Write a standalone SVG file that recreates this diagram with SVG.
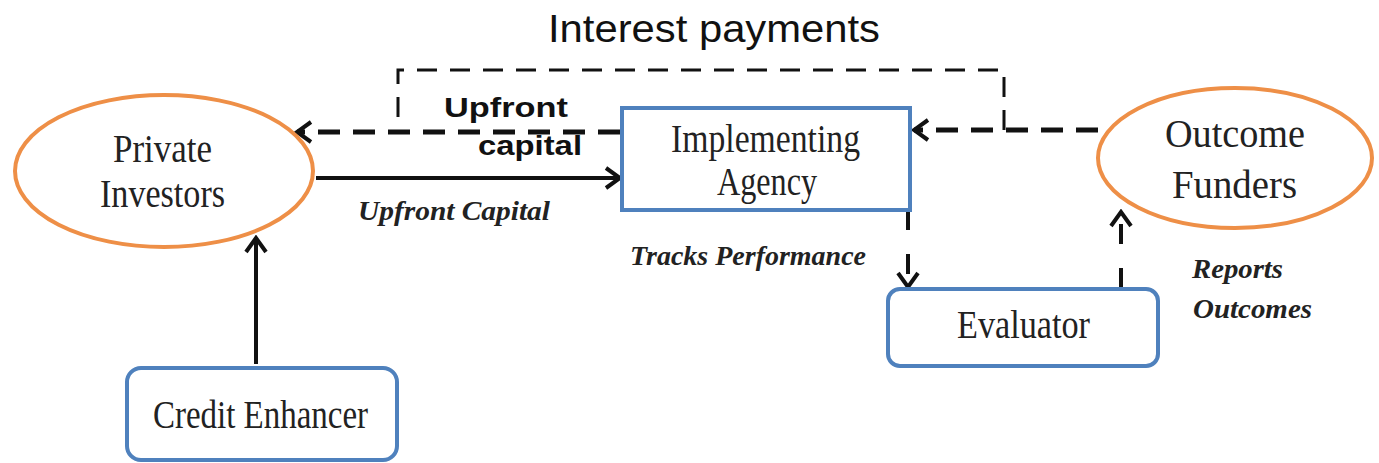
<svg xmlns="http://www.w3.org/2000/svg" width="1379" height="463" viewBox="0 0 1379 463">
<style>
.ell{fill:#fff;stroke:#EE8F47;stroke-width:4}
.box{fill:#fff;stroke:#4F81BD;stroke-width:4}
.lbl{font-family:"Liberation Serif",serif;font-size:40px;fill:#222;text-anchor:start}
.it{font-family:"Liberation Serif",serif;font-style:italic;font-weight:bold;font-size:28px;fill:#222}
.bs{font-family:"Liberation Sans",sans-serif;font-weight:bold;font-size:28px;fill:#111}
.title{font-family:"Liberation Sans",sans-serif;font-size:38px;fill:#111}
.solid{fill:none;stroke:#111;stroke-width:4}
.dash{fill:none;stroke:#111;stroke-width:5;stroke-dasharray:22 13}
.thin{fill:none;stroke:#111;stroke-width:3;stroke-dasharray:20 13}
</style>
<defs>
<marker id="ah" viewBox="0 0 22 24" refX="19" refY="12" markerWidth="22" markerHeight="24" markerUnits="userSpaceOnUse" orient="auto">
<path d="M5,2 L19,12 L5,22" fill="none" stroke="#111" stroke-width="4"/>
</marker>
</defs>
<rect width="1379" height="463" fill="#fff"/>
<text class="title" x="548" y="42" textLength="332" lengthAdjust="spacingAndGlyphs">Interest payments</text>
<g id="connectors">
<path class="dash" d="M1098,130 H914" marker-end="url(#ah)"/>
<path class="thin" d="M1004,130 V70 H398 V132"/>
<path class="dash" d="M620,132 H297" marker-end="url(#ah)"/>
<path class="solid" d="M316,178 H620" marker-end="url(#ah)"/>
<path class="solid" d="M256,364 V238" marker-end="url(#ah)"/>
<path class="dash" d="M908,210 V287" style="stroke-width:4;stroke-dasharray:20 24" marker-end="url(#ah)"/>
<path class="dash" d="M1121,288 V212" style="stroke-width:4;stroke-dasharray:20 24" marker-end="url(#ah)"/>
<text class="bs" x="444" y="117" textLength="124" lengthAdjust="spacingAndGlyphs">Upfront</text>
<text class="bs" x="478" y="155" textLength="104" lengthAdjust="spacingAndGlyphs">capital</text>
<text class="it" x="358" y="220" textLength="192" lengthAdjust="spacingAndGlyphs">Upfront Capital</text>
<text class="it" x="630" y="265" textLength="236" lengthAdjust="spacingAndGlyphs">Tracks Performance</text>
<text class="it" x="1192" y="278" textLength="91" lengthAdjust="spacingAndGlyphs">Reports</text>
<text class="it" x="1193" y="318" textLength="119" lengthAdjust="spacingAndGlyphs">Outcomes</text>
</g>
<g id="private-investors">
<ellipse class="ell" cx="164" cy="171" rx="149" ry="76"/>
<text class="lbl" x="113" y="162" textLength="99" lengthAdjust="spacingAndGlyphs">Private</text>
<text class="lbl" x="100" y="207" textLength="125" lengthAdjust="spacingAndGlyphs">Investors</text>
</g>
<g id="implementing-agency">
<rect class="box" x="622" y="108" width="288" height="102"/>
<text class="lbl" x="671" y="152" textLength="189" lengthAdjust="spacingAndGlyphs">Implementing</text>
<text class="lbl" x="717" y="195" textLength="100" lengthAdjust="spacingAndGlyphs">Agency</text>
</g>
<g id="outcome-funders">
<ellipse class="ell" cx="1235" cy="158" rx="137" ry="70"/>
<text class="lbl" x="1165" y="147" textLength="140" lengthAdjust="spacingAndGlyphs">Outcome</text>
<text class="lbl" x="1172" y="198" textLength="125" lengthAdjust="spacingAndGlyphs">Funders</text>
</g>
<g id="evaluator">
<rect class="box" x="888" y="289" width="270" height="77" rx="12"/>
<text class="lbl" x="957" y="338" textLength="133" lengthAdjust="spacingAndGlyphs">Evaluator</text>
</g>
<g id="credit-enhancer">
<rect class="box" x="127" y="368" width="270" height="92" rx="14"/>
<text class="lbl" x="153" y="428" textLength="215" lengthAdjust="spacingAndGlyphs">Credit Enhancer</text>
</g>
</svg>
